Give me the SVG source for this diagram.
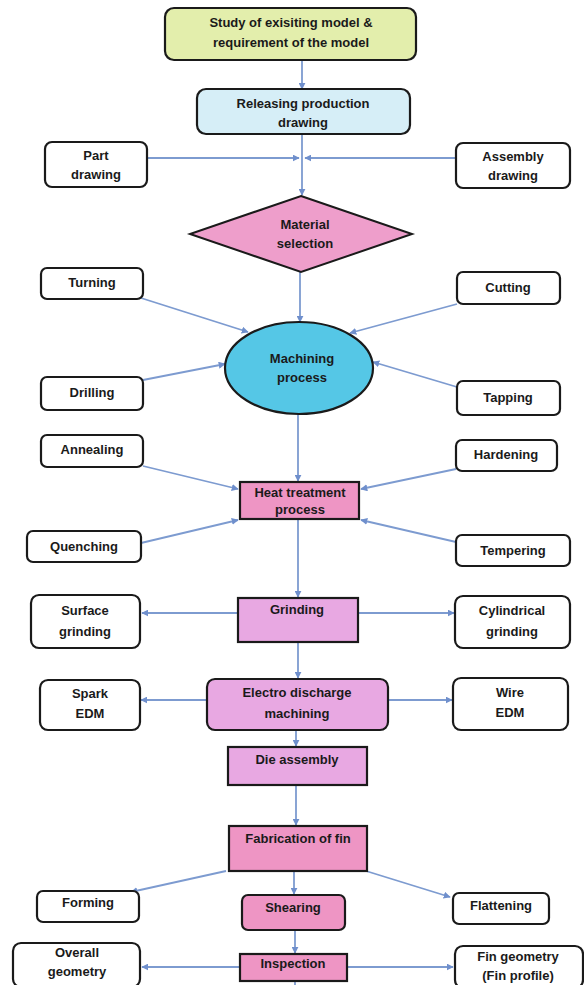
<svg xmlns="http://www.w3.org/2000/svg" width="584" height="985" viewBox="0 0 584 985">
<defs>
<marker id="ah" viewBox="0 0 10 10" refX="9" refY="5" markerWidth="7" markerHeight="7" markerUnits="userSpaceOnUse" orient="auto">
<path d="M0,0 L10,5 L0,10 z" fill="#6f8fcc"/>
</marker>
<style>
.b{fill:#fff;stroke:#1a1a1a;stroke-width:2.2}
.t{font-family:"Liberation Sans",Arial,sans-serif;font-weight:bold;font-size:13px;fill:#1a1a1a;text-anchor:middle}
.c{stroke:#7d9bd0;stroke-width:1.8;fill:none;marker-end:url(#ah)}
.n{stroke:#7d9bd0;stroke-width:1.8;fill:none}
.pk{fill:#ee95c4;stroke:#1a1a1a;stroke-width:2.2}
.lv{fill:#e8a8e2;stroke:#1a1a1a;stroke-width:2.2}
</style>
</defs>
<rect width="584" height="985" fill="#fff"/>
<g id="connectors">
<line class="c" x1="302" y1="60" x2="302" y2="89"/>
<line class="c" x1="302" y1="134" x2="302" y2="195"/>
<line class="c" x1="147" y1="158" x2="299" y2="158"/>
<line class="c" x1="456" y1="158" x2="305" y2="158"/>
<line class="c" x1="300" y1="272" x2="300" y2="322"/>
<line class="c" x1="141" y1="298" x2="248" y2="332"/>
<line class="c" x1="457" y1="304" x2="350" y2="333"/>
<line class="c" x1="143" y1="380" x2="225" y2="364"/>
<line class="c" x1="457" y1="387" x2="373" y2="362"/>
<line class="c" x1="298" y1="414" x2="298" y2="481"/>
<line class="c" x1="143" y1="466" x2="238" y2="489"/>
<line class="c" x1="456" y1="469" x2="361" y2="489"/>
<line class="c" x1="141" y1="543" x2="238" y2="520"/>
<line class="c" x1="456" y1="542" x2="361" y2="520"/>
<line class="c" x1="298" y1="519" x2="298" y2="597"/>
<line class="c" x1="238" y1="613" x2="142" y2="613"/>
<line class="c" x1="358" y1="613" x2="454" y2="613"/>
<line class="c" x1="298" y1="642" x2="298" y2="678"/>
<line class="c" x1="207" y1="700" x2="141" y2="700"/>
<line class="c" x1="388" y1="700" x2="452" y2="700"/>
<line class="c" x1="296" y1="730" x2="296" y2="746"/>
<line class="c" x1="296" y1="785" x2="296" y2="825"/>
<line class="c" x1="226" y1="871" x2="131" y2="892"/>
<line class="c" x1="294" y1="871" x2="294" y2="894"/>
<line class="c" x1="366" y1="871" x2="450" y2="897"/>
<line class="c" x1="295" y1="930" x2="295" y2="953"/>
<line class="c" x1="240" y1="967" x2="142" y2="967"/>
<line class="c" x1="347" y1="967" x2="453" y2="967"/>
<line class="n" x1="295" y1="980" x2="295" y2="985"/>
</g>
<g id="study">
<rect x="165" y="8" width="251" height="52" rx="9" fill="#e3eeac" stroke="#1a1a1a" stroke-width="2.2"/>
<text class="t" x="291" y="27">Study of exisiting model &amp;</text>
<text class="t" x="291" y="47">requirement of the model</text>
</g>
<g id="releasing">
<rect x="197" y="89" width="213" height="45" rx="9" fill="#d6eef7" stroke="#1a1a1a" stroke-width="2.2"/>
<text class="t" x="303" y="108">Releasing production</text>
<text class="t" x="303" y="127">drawing</text>
</g>
<g id="part">
<rect class="b" x="45" y="142" width="102" height="45" rx="7"/>
<text class="t" x="96" y="160">Part</text>
<text class="t" x="96" y="179">drawing</text>
</g>
<g id="assembly">
<rect class="b" x="456" y="143" width="114" height="45" rx="7"/>
<text class="t" x="513" y="161">Assembly</text>
<text class="t" x="513" y="180">drawing</text>
</g>
<g id="material">
<polygon points="301,196 412,234 301,272 190,234" fill="#ee9ecb" stroke="#1a1a1a" stroke-width="2"/>
<text class="t" x="305" y="229">Material</text>
<text class="t" x="305" y="248">selection</text>
</g>
<g id="turning">
<rect class="b" x="41" y="268" width="102" height="31" rx="6"/>
<text class="t" x="92" y="287">Turning</text>
</g>
<g id="cutting">
<rect class="b" x="457" y="272" width="103" height="32" rx="6"/>
<text class="t" x="508" y="292">Cutting</text>
</g>
<g id="machining">
<ellipse cx="299" cy="368" rx="74" ry="46" fill="#55c7e6" stroke="#1a1a1a" stroke-width="2.2"/>
<text class="t" x="302" y="363">Machining</text>
<text class="t" x="302" y="382">process</text>
</g>
<g id="drilling">
<rect class="b" x="41" y="377" width="102" height="33" rx="6"/>
<text class="t" x="92" y="397">Drilling</text>
</g>
<g id="tapping">
<rect class="b" x="457" y="381" width="103" height="34" rx="6"/>
<text class="t" x="508" y="402">Tapping</text>
</g>
<g id="annealing">
<rect class="b" x="41" y="435" width="102" height="32" rx="6"/>
<text class="t" x="92" y="454">Annealing</text>
</g>
<g id="hardening">
<rect class="b" x="456" y="440" width="101" height="31" rx="6"/>
<text class="t" x="506" y="459">Hardening</text>
</g>
<g id="heat">
<rect class="pk" x="240" y="482" width="119" height="37"/>
<text class="t" x="300" y="497">Heat treatment</text>
<text class="t" x="300" y="514">process</text>
</g>
<g id="quenching">
<rect class="b" x="27" y="531" width="114" height="31" rx="6"/>
<text class="t" x="84" y="551">Quenching</text>
</g>
<g id="tempering">
<rect class="b" x="456" y="535" width="114" height="31" rx="6"/>
<text class="t" x="513" y="555">Tempering</text>
</g>
<g id="surface">
<rect class="b" x="31" y="595" width="109" height="53" rx="8"/>
<text class="t" x="85" y="615">Surface</text>
<text class="t" x="85" y="636">grinding</text>
</g>
<g id="grinding">
<rect class="lv" x="238" y="598" width="120" height="44"/>
<text class="t" x="297" y="614">Grinding</text>
</g>
<g id="cylindrical">
<rect class="b" x="455" y="596" width="115" height="52" rx="8"/>
<text class="t" x="512" y="615">Cylindrical</text>
<text class="t" x="512" y="636">grinding</text>
</g>
<g id="spark">
<rect class="b" x="40" y="680" width="100" height="50" rx="8"/>
<text class="t" x="90" y="698">Spark</text>
<text class="t" x="90" y="718">EDM</text>
</g>
<g id="edm">
<rect class="lv" x="207" y="679" width="181" height="51" rx="8"/>
<text class="t" x="297" y="697">Electro discharge</text>
<text class="t" x="297" y="718">machining</text>
</g>
<g id="wire">
<rect class="b" x="453" y="678" width="115" height="52" rx="8"/>
<text class="t" x="510" y="697">Wire</text>
<text class="t" x="510" y="717">EDM</text>
</g>
<g id="die">
<rect class="lv" x="228" y="747" width="139" height="38"/>
<text class="t" x="297" y="764">Die assembly</text>
</g>
<g id="fabrication">
<rect class="pk" x="229" y="826" width="138" height="45"/>
<text class="t" x="298" y="843">Fabrication of fin</text>
</g>
<g id="forming">
<rect class="b" x="37" y="891" width="102" height="31" rx="6"/>
<text class="t" x="88" y="907">Forming</text>
</g>
<g id="shearing">
<rect class="pk" x="242" y="895" width="103" height="35" rx="6"/>
<text class="t" x="293" y="912">Shearing</text>
</g>
<g id="flattening">
<rect class="b" x="453" y="893" width="96" height="31" rx="6"/>
<text class="t" x="501" y="910">Flattening</text>
</g>
<g id="overall">
<rect class="b" x="13" y="943" width="127" height="44" rx="8"/>
<text class="t" x="77" y="957">Overall</text>
<text class="t" x="77" y="976">geometry</text>
</g>
<g id="inspection">
<rect class="pk" x="240" y="954" width="107" height="27"/>
<text class="t" x="293" y="968">Inspection</text>
</g>
<g id="fingeometry">
<rect class="b" x="455" y="946" width="128" height="42" rx="8"/>
<text class="t" x="518" y="961">Fin geometry</text>
<text class="t" x="518" y="980">(Fin profile)</text>
</g>
</svg>
